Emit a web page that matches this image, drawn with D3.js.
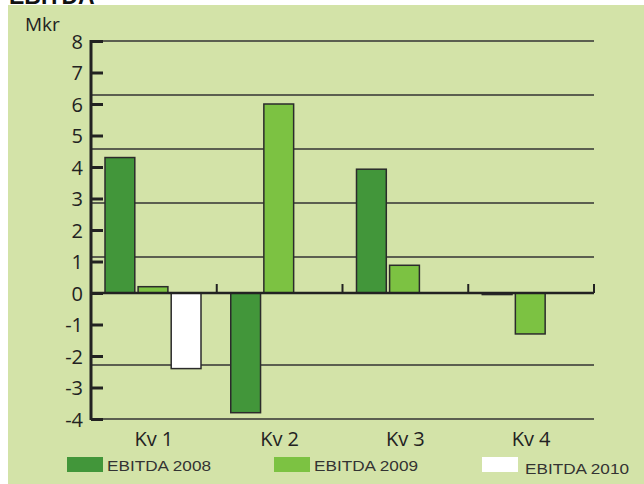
<!DOCTYPE html>
<html><head><meta charset="utf-8">
<script src="https://cdn.jsdelivr.net/npm/d3@7"></script>
<style>html,body{margin:0;padding:0;background:#fff;}svg{display:block;}</style>
</head><body>
<svg id="c" width="644" height="484"></svg>
<script>
const categories = ["Kv 1","Kv 2","Kv 3","Kv 4"];
const series = ["EBITDA 2008","EBITDA 2009","EBITDA 2010"];
const ebitda2008 = [4.3, -3.8, 3.93, -0.05];
const ebitda2009 = [0.2, 6.0, 0.88, -1.3];
const ebitda2010 = [-2.4, null, null, null];
const yTicks = [8,7,6,5,4,3,2,1,0,-1,-2,-3,-4];
const gridValues = [8, 6.286, 4.571, 2.857, 1.143, -2.286, -4];
const colors = ["#42963a","#7cc242","#ffffff"];

const values = [ebitda2008, ebitda2009, ebitda2010];
const svg = d3.select("#c");
svg.append("rect").attr("x",8).attr("y",5).attr("width",636).attr("height",479).attr("fill","#d3e3a8");
svg.append("text").attr("x",9).attr("y",4).attr("font-family","Liberation Sans, Arial, sans-serif")
  .attr("font-weight","bold").attr("font-size",23).attr("fill","#111").text("EBITDA");

const y = d3.scaleLinear().domain([-4,8]).range([419,41]);
const x = d3.scaleBand().domain(categories).range([91,594]);
const xs = d3.scaleBand().domain(series).range([14,110]).paddingInner(0.1);

// gridlines
svg.append("g").selectAll("line").data(gridValues).join("line")
  .attr("x1",91).attr("x2",594).attr("y1",d=>y(d)).attr("y2",d=>y(d))
  .attr("stroke","#333").attr("stroke-width",1.5);

// bars
const data = [];
categories.forEach((c,i)=>series.forEach((s,j)=>{ if(values[j][i]!==null) data.push({c,s,j,v:values[j][i]}); }));
svg.append("g").selectAll("rect").data(data).join("rect")
  .attr("x",d=>x(d.c)+xs(d.s)).attr("width",xs.bandwidth())
  .attr("y",d=>y(Math.max(0,d.v))).attr("height",d=>Math.max(1.5,Math.abs(y(d.v)-y(0))))
  .attr("fill",d=>colors[d.j]).attr("stroke","#2b2b2b").attr("stroke-width",1.5);

// zero line with category ticks
svg.append("line").attr("x1",91).attr("x2",594).attr("y1",y(0)).attr("y2",y(0)).attr("stroke","#222").attr("stroke-width",2.5);
svg.append("g").selectAll("line").data(categories).join("line")
  .attr("x1",d=>x(d)+x.bandwidth()).attr("x2",d=>x(d)+x.bandwidth())
  .attr("y1",y(0)).attr("y2",y(0)-9).attr("stroke","#222").attr("stroke-width",2);

// y axis
const ya = svg.append("g").attr("transform","translate(91,0)")
  .call(d3.axisLeft(y).tickValues(yTicks).tickSize(-12).tickPadding(8).tickFormat(d=>String(d)));
ya.select(".domain").remove();
ya.selectAll(".tick line").attr("stroke","#222").attr("stroke-width",3);
ya.selectAll(".tick text").attr("font-family","Open Sans, sans-serif").attr("font-size",20).attr("fill","#222").attr("dy","0.36em");
svg.append("line").attr("x1",91).attr("x2",91).attr("y1",40).attr("y2",420).attr("stroke","#222").attr("stroke-width",3);

// x axis labels
const xa = svg.append("g").attr("transform","translate(0,419)")
  .call(d3.axisBottom(x).tickSize(0).tickPadding(13));
xa.select(".domain").remove();
xa.selectAll(".tick text").attr("font-family","Open Sans, sans-serif").attr("font-size",20).attr("fill","#222");

svg.append("text").attr("x",25).attr("y",31).attr("font-family","Open Sans, sans-serif").attr("font-size",19).attr("fill","#222").text("Mkr");

// legend
const legX = [67, 274, 482];
const legTX = [107, 314, 525];
const legTY = [471, 471, 474];
const lg = svg.append("g").selectAll("g").data(series).join("g");
lg.append("rect").attr("x",(d,i)=>legX[i]).attr("y",457).attr("width",36).attr("height",15).attr("fill",(d,i)=>colors[i]);
lg.append("text").attr("x",(d,i)=>legTX[i]).attr("y",(d,i)=>legTY[i]).attr("font-family","Liberation Sans, Arial, sans-serif")
  .attr("font-size",14).attr("fill","#333").attr("textLength",104).attr("lengthAdjust","spacingAndGlyphs").text(d=>d);
</script>
</body></html>
